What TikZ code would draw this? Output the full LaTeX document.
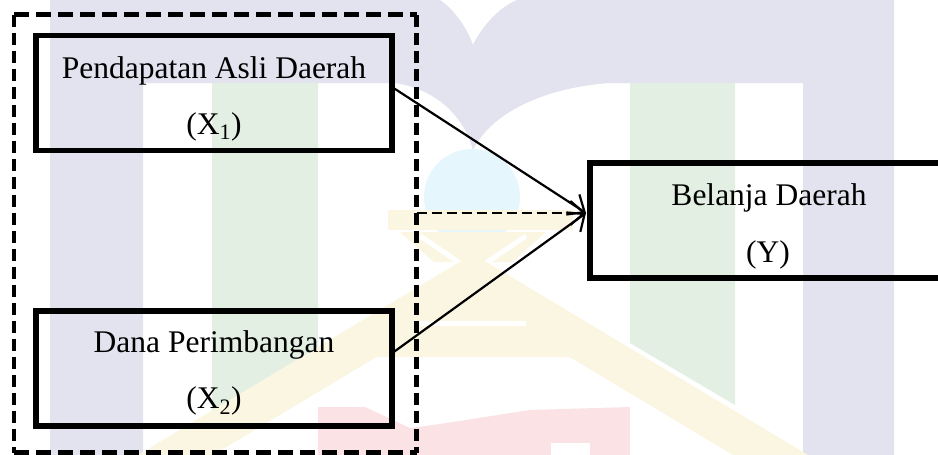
\documentclass[tikz,border=0pt]{standalone}
\usepackage{fontspec}
\setmainfont{Liberation Serif}
\usetikzlibrary{arrows.meta,calc}

% faint colours of the background emblem
\definecolor{embLav}{RGB}{227,227,239}
\definecolor{embGreen}{RGB}{226,239,226}
\definecolor{embYellow}{RGB}{251,246,225}
\definecolor{embRed}{RGB}{251,227,229}
\definecolor{embBlue}{RGB}{229,246,253}

\tikzset{
  varbox/.style={draw=black, line width=5.5pt, minimum width=356pt,
    minimum height=115pt, inner sep=0pt, outer sep=0pt},
  vartext/.style={anchor=base, inner sep=0pt,
    font=\fontsize{31.5}{38}\selectfont},
  link/.style={draw=black, line width=2.2pt,
    -{Straight Barb[length=14pt,width=24pt]}},
  dashlink/.style={link, dash pattern=on 10pt off 5pt},
  frameh/.style={draw=black, line width=4.5pt, dash pattern=on 15pt off 7pt},
  framev/.style={draw=black, line width=4.5pt, dash pattern=on 12pt off 6pt}
}

\begin{document}
\begin{tikzpicture}[x=1pt,y=-1pt]
\useasboundingbox (0,0) rectangle (938,455);
\clip (0,0) rectangle (938,455);
\fill[white] (0,0) rectangle (938,455);

% ---- background emblem ----
% arch with two pillars
\fill[embLav] (50,0) -- (440,0)
  .. controls (455,10) and (468,30) .. (473,45)
  .. controls (480,30) and (497,8) .. (517,0)
  -- (894,0) -- (894,455) -- (803,455) -- (803,83) -- (610,83)
  .. controls (540,88) and (490,115) .. (473,150)
  .. controls (465,120) and (440,90) .. (395,83)
  -- (143,83) -- (143,455) -- (50,455) -- cycle;
% green pillars
\fill[embGreen] (212,83) -- (318,83) -- (318,362) -- (212,425) -- cycle;
\fill[embGreen] (630,83) -- (735,83) -- (735,405) -- (630,343) -- cycle;
% globe
\fill[embBlue] (472,197) circle[radius=48];
% roof
\fill[embYellow] (388,210) rectangle (573,230);
\fill[embYellow] (400,232) -- (546,232) -- (512,262) -- (434,262) -- cycle;
\draw[white, line width=5pt] (420,236) -- (500,290);
\draw[white, line width=5pt] (526,236) -- (446,290);
\fill[embYellow, even odd rule] (473,254) -- (808,455) -- (138,455) -- cycle
  (473,299) -- (733,455) -- (213,455) -- cycle;
\fill[embYellow] (473,299) -- (570,357) -- (376,357) -- cycle;
\draw[white, line width=5pt] (420,323) -- (526,323);
% lettering
\fill[embRed] (318,407) -- (365,407) -- (410,428) -- (440,424) -- (530,410)
  -- (630,407) -- (630,455) -- (318,455) -- cycle;
\fill[white] (551,443) rectangle (590,456);

% ---- diagram ----
\node[minimum width=402.5pt, minimum height=438pt, inner sep=0pt,
  outer sep=0pt] (frame) at (215.25,233.5) {};
\draw[frameh] (frame.north west) -- (frame.north east);
\draw[frameh] (frame.south west) -- (frame.south east);
\draw[framev] (frame.north west) -- (frame.south west);
\draw[framev] (frame.north east) -- (frame.south east);

\node[varbox] (x1) at (214,93) {};
\node[varbox] (x2) at (214,368.25) {};
\node[varbox, minimum width=380pt] (y) at (780,220.5) {};

\node[vartext] (x1name) at (214,78) {Pendapatan Asli Daerah};
\node[vartext] (x1sym) at (214,134) {(X\textsubscript{1})};
\node[vartext] (x2name) at (214,352) {Dana Perimbangan};
\node[vartext] (x2sym) at (214,408) {(X\textsubscript{2})};
\node[vartext] (yname) at (769,205) {Belanja Daerah};
\node[vartext] (ysym) at (768,262) {(Y)};

\coordinate (tip) at ($(y.west)+(-4,-7.5)$);
\draw[link] ($(x1.east)+(0,-6)$) -- (tip);
\draw[link] ($(x2.east)+(0,-15)$) -- (tip);
\draw[dashlink] (frame.east |- tip) -- (tip);
\end{tikzpicture}
\end{document}
